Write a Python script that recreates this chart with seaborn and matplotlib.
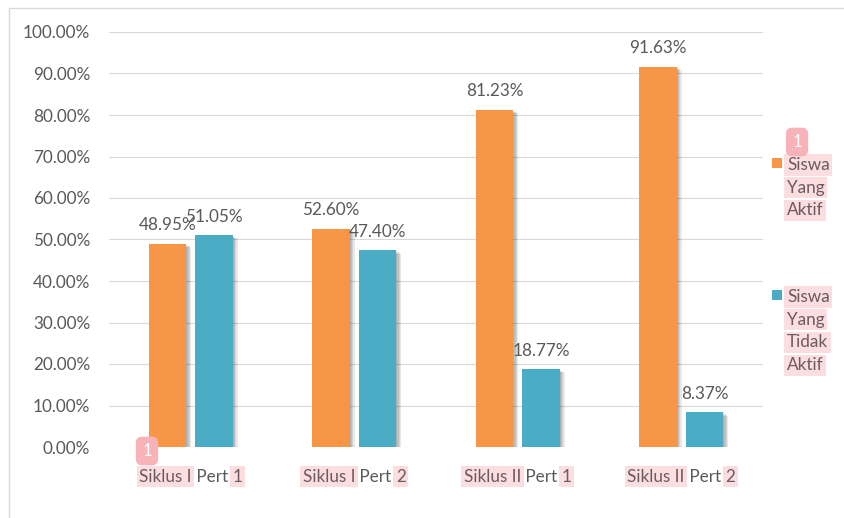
import pandas as pd
import matplotlib
matplotlib.use("Agg")
import matplotlib.pyplot as plt
import matplotlib.patheffects as pe
from matplotlib.patches import Rectangle
import seaborn as sns

# ----------------------------------------------------------------------
# Data
# ----------------------------------------------------------------------
siklus = ["Siklus I", "Siklus I", "Siklus II", "Siklus II"]
pert = ["1", "2", "1", "2"]
categories = [f"{s} Pert {p}" for s, p in zip(siklus, pert)]
series = ["Siswa Yang Aktif", "Siswa Yang Tidak Aktif"]
aktif = [48.95, 52.60, 81.23, 91.63]
tidak_aktif = [51.05, 47.40, 18.77, 8.37]
y_ticks = [0, 10, 20, 30, 40, 50, 60, 70, 80, 90, 100]

colors = ["#F79646", "#4BACC6"]
text_gray = "#595959"
hl_text = "#6B5A60"
pink = "#FCDDE0"
badge = "#F7B3B8"

df = pd.DataFrame({"Pertemuan": categories * 2,
                   "Persen": aktif + tidak_aktif,
                   "Kategori": [series[0]] * 4 + [series[1]] * 4})

# ----------------------------------------------------------------------
# Plot
# ----------------------------------------------------------------------
sns.set_theme(style="white")
plt.rcParams["font.family"] = ["Lato", "DejaVu Sans"]

W, H, DPI = 844, 518, 100
fig = plt.figure(figsize=(W / DPI, H / DPI), dpi=DPI)
ax = fig.add_axes([109 / W, 1 - 447 / H, (763 - 109) / W, (447 - 32) / H])

sns.barplot(data=df, x="Pertemuan", y="Persen", hue="Kategori",
            palette=colors, width=0.568, gap=0.2, errorbar=None,
            linewidth=0, saturation=1, legend=False, ax=ax)

# soft drop shadow like the office chart
shadow = [pe.SimplePatchShadow(offset=(k * 0.9, -k * 0.6), shadow_rgbFace="black",
                               alpha=0.09) for k in range(1, 5)] + [pe.Normal()]
for patch in ax.patches:
    patch.set_path_effects(shadow)

for cont in ax.containers:
    ax.bar_label(cont, fmt="{:.2f}%", padding=7.5, fontsize=12.3, color=text_gray)

ax.set_xlim(-0.5, 3.5)
ax.set_ylim(0, 100)
ax.set_yticks(y_ticks)
ax.set_yticklabels([f"{v:.2f}%" for v in y_ticks])
ax.tick_params(axis="y", length=0, pad=13.5, labelsize=12.3, labelcolor=text_gray)
ax.set_xticks(range(len(categories)))
ax.set_xticklabels([])
ax.tick_params(axis="x", length=0)
ax.set_xlabel("")
ax.set_ylabel("")
ax.grid(axis="y", color="#D9D9D9", linewidth=0.8)
ax.set_axisbelow(True)
for s in ax.spines.values():
    s.set_visible(False)

# category labels with highlighted pieces
hl_box = dict(boxstyle="square,pad=0.15", facecolor=pink, edgecolor="none")
trans = ax.get_xaxis_transform()
label_parts = []
for i, (s, p) in enumerate(zip(siklus, pert)):
    t1 = ax.annotate(s, xy=(i, 0), xycoords=trans, xytext=(0, -15.5),
                     textcoords="offset points", ha="left", va="top",
                     fontsize=12.3, color=hl_text, bbox=hl_box)
    t2 = ax.annotate(" Pert ", xy=(1, 0), xycoords=t1, ha="left", va="bottom",
                     fontsize=12.3, color=text_gray)
    t3 = ax.annotate(p, xy=(1, 0), xycoords=t2, ha="left", va="bottom",
                     fontsize=12.3, color=hl_text, bbox=hl_box)
    label_parts.append((t1, t3))

fig.canvas.draw()
for t1, t3 in label_parts:
    width = t3.get_window_extent().x1 - t1.get_window_extent().x0
    t1.xyann = (-width / 2 * 72 / DPI, -15.5)

# legend drawn by hand
legend_rows = [(163, 165), (295, 297)]
for (sq_y, txt_y), name, c in zip(legend_rows, series, colors):
    fig.add_artist(Rectangle((772 / W, 1 - (sq_y + 5) / H), 10 / W, 10 / H,
                             transform=fig.transFigure, facecolor=c, edgecolor="none"))
    for j, word in enumerate(name.split()):
        fig.text(787 / W, 1 - (txt_y + j * 22.7) / H, word, ha="left", va="center",
                 fontsize=12.3, color=hl_text, bbox=hl_box)

# note badges
badge_box = dict(boxstyle="round,pad=0.38", facecolor=badge, edgecolor="none")
fig.text(147 / W, 1 - 451 / H, "1", ha="center", va="center", fontsize=12,
         color="white", bbox=badge_box)
fig.text(797 / W, 1 - 142 / H, "1", ha="center", va="center", fontsize=12,
         color="white", bbox=badge_box)

# chart frame
fig.add_artist(Rectangle((9 / W, -0.5), 2, 0.5 + 1 - 8 / H, transform=fig.transFigure,
                         facecolor="none", edgecolor="#D9D9D9", linewidth=1))

fig.savefig("out.png", dpi=DPI)
